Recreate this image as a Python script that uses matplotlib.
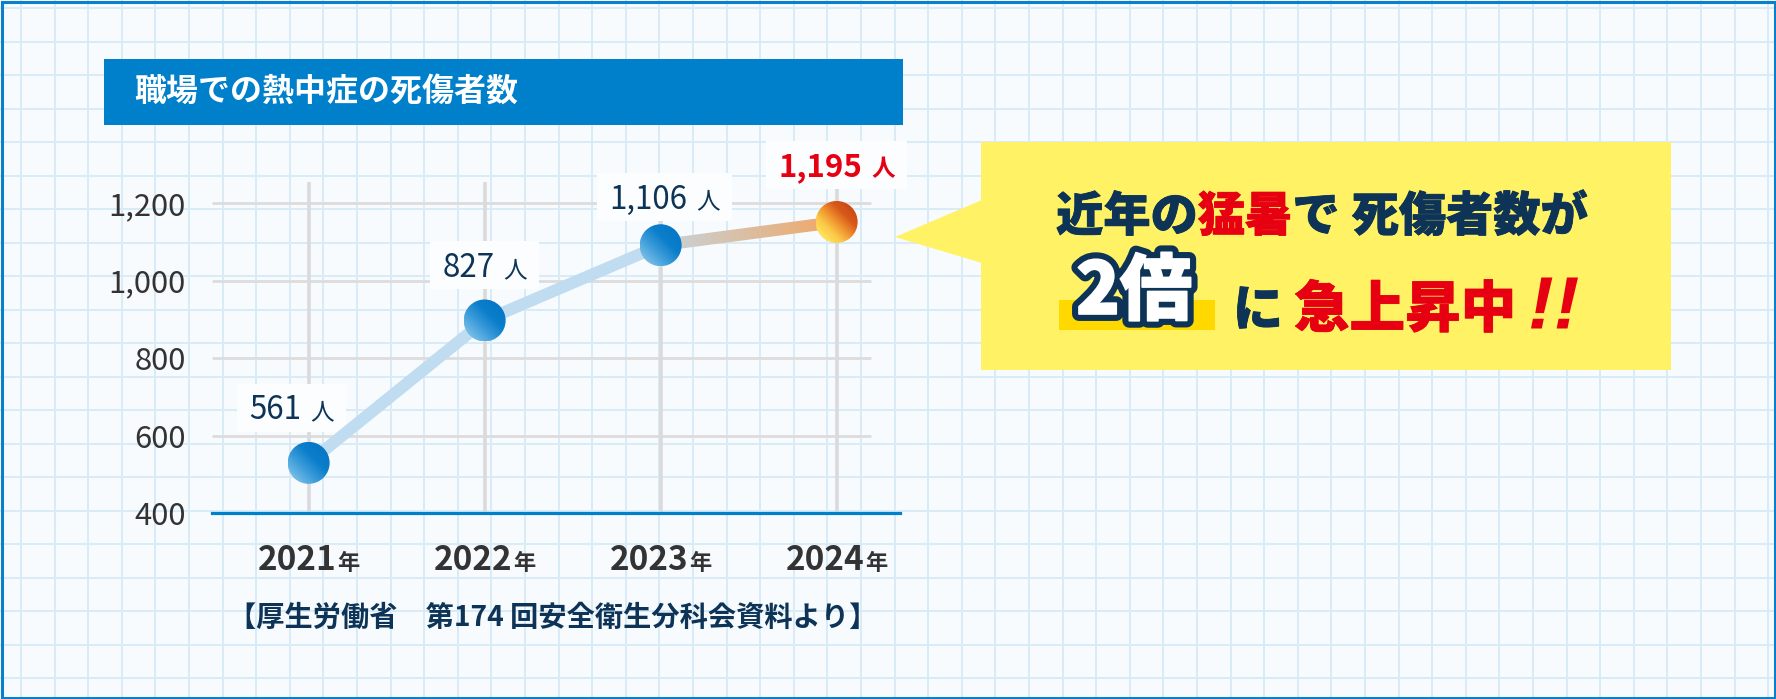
import numpy as np
import matplotlib
matplotlib.use('Agg')
import matplotlib.pyplot as plt
import matplotlib.patheffects as pe
from matplotlib.patches import Rectangle, Polygon, Circle, PathPatch
from matplotlib.transforms import IdentityTransform, Affine2D
from matplotlib.colors import LinearSegmentedColormap
from matplotlib.textpath import TextPath
from matplotlib.font_manager import FontProperties

plt.rcParams['font.family'] = ['Noto Sans CJK JP', 'DejaVu Sans']

# データ
years = ['2021', '2022', '2023', '2024']
deaths = [561, 827, 1106, 1195]          # ラベルの値（人）
drawn_level = [530, 897, 1091, 1151]     # 元の図で点が描かれている高さ
y_ticks = [400, 600, 800, 1000, 1200]
year_unit = '年'
person_unit = '人'

title = '職場での熱中症の死傷者数'
source = '【厚生労働省　第174 回安全衛生分科会資料より】'
msg_line1 = ['近年の', '猛暑', 'で', '死傷者数が']
msg_line1_red = [False, True, False, False]
msg_big = '2倍'
msg_ni = 'に'
msg_red = '急上昇中'
msg_bang = '!!'

# 色
NAVY = '#0d3457'
RED = '#e60012'
BLUE = '#0080cb'
YELLOW = '#fff264'
TEXT_GRAY = '#333333'

W, H = 1776, 699
fig = plt.figure(figsize=(W / 100, H / 100), dpi=100)
renderer = fig.canvas.get_renderer()
ID = IdentityTransform()


def top(y):
    # 上からのピクセル位置 → 表示座標
    return H - y


def runs(axis, cx, base, parts):
    # parts: (文字, 書式, 後ろの余白) を左から並べて cx で中央揃え
    ts = [axis.text(0, base, s, va='baseline', ha='left', transform=ID,
                    clip_on=False, **kw) for s, kw, g in parts]
    ws = [t.get_window_extent(renderer).width for t in ts]
    total = sum(ws) + sum(g for s, kw, g in parts[:-1])
    x = cx - total / 2
    left = x
    for t, w, (s, kw, g) in zip(ts, ws, parts):
        t.set_x(x)
        x += w + g
    return ts, left, total


def heavy(t, color, lw=0.6):
    # 太字を少しだけ太く見せる
    t.set_path_effects([pe.Stroke(linewidth=lw, foreground=color), pe.Normal()])


# 背景（方眼）
bg = fig.add_axes([0, 0, 1, 1])
bg.set_xlim(0, W)
bg.set_ylim(0, H)
bg.axis('off')
bg.add_patch(Rectangle((0, 0), W, H, fc='#f8fbfe', ec='none', zorder=0))
for gx in np.arange(21, W, 33.6):
    bg.axvline(gx, color='#d9ebf6', lw=1.4, zorder=1)
for gy in np.arange(8.2, H, 33.5):
    bg.axhline(top(gy), color='#d9ebf6', lw=1.4, zorder=1)
bg.add_patch(Rectangle((1.5, 1.5), W - 3, H - 3, fill=False, ec='#0a7fcc', lw=2.2, zorder=10))

# タイトル帯
bg.add_patch(Rectangle((104, top(125)), 799, 66, fc=BLUE, ec='none', zorder=2))
bg.text(134, top(92), title, fontsize=23, weight='bold', color='white', va='center', zorder=3)

# 出典
bg.text(553, top(618), source, fontsize=20.3, weight='bold', color=NAVY,
        ha='center', va='center', zorder=3)

# 吹き出し
bg.add_patch(Rectangle((981, top(370)), 690, 228.3, fc=YELLOW, ec='none', zorder=2))
bg.add_patch(Polygon([(895, top(237)), (982, top(200)), (982, top(263))],
                     closed=True, fc=YELLOW, ec='none', zorder=2))
bg.add_patch(Rectangle((1059, top(330)), 156, 30, fc='#ffd800', ec='none', zorder=3))

parts = []
for s, is_red in zip(msg_line1, msg_line1_red):
    gap = 12 if s == 'で' else 0
    parts.append((s, dict(fontsize=34, weight='black', color=RED if is_red else NAVY, zorder=4), gap))
for t, is_red in zip(runs(bg, 1322, top(231), parts)[0], msg_line1_red):
    heavy(t, RED if is_red else NAVY)

big = runs(bg, 1134, top(314), [(msg_big, dict(fontsize=52, weight='black', color='white', zorder=4), 0)])[0][0]
big.set_path_effects([pe.Stroke(linewidth=10, foreground=NAVY), pe.Stroke(linewidth=1.2, foreground='white'),
                      pe.Normal()])
heavy(runs(bg, 1258, top(326), [(msg_ni, dict(fontsize=36, weight='black', color=NAVY, zorder=4), 0)])[0][0], NAVY)
heavy(runs(bg, 1405, top(327), [(msg_red, dict(fontsize=40, weight='black', color=RED, zorder=4), 0)])[0][0], RED)

# 「!!」は縦長の斜体
bang = TextPath((0, 0), msg_bang, size=100,
                prop=FontProperties(family='Liberation Sans', weight='bold', style='italic'))
bb = bang.get_extents()
sy = 51 / bb.height
sx = 47 / bb.width
bang_tf = Affine2D().translate(-bb.x0, -bb.y0).scale(sx, sy).translate(1531, top(328.5))
bg.add_patch(PathPatch(bang, transform=bang_tf, fc=RED, ec='none', zorder=4))

# グラフ
ax = fig.add_axes([212 / W, top(513.3) / H, 688 / W, 331.3 / H])
ax.set_xlim(-0.549, 3.36)
ax.set_ylim(400, 1254)
ax.patch.set_visible(False)
for s in ax.spines.values():
    s.set_visible(False)
ax.set_xticks([])
ax.set_yticks(y_ticks, [f'{v:,}' for v in y_ticks])
ax.tick_params(axis='y', length=0, pad=19, labelsize=22.3, labelcolor=TEXT_GRAY)

xs = np.arange(len(years))
ax.hlines(y_ticks[1:], -0.549, 3.193, colors='#dcdcdc', lw=2, zorder=1)
ax.vlines(xs, 400, 1254, colors='#dadada', lw=2.6, zorder=1)
ax.axhline(400, color=BLUE, lw=2.3, zorder=2, clip_on=False)

# 折れ線（2021〜2023 は水色、2023〜2024 はグラデーション）
ax.plot(xs[:3], drawn_level[:3], color='#bfdcf1', lw=8.6, solid_capstyle='butt', zorder=4)
p0 = ax.transData.transform((xs[2], drawn_level[2]))
p1 = ax.transData.transform((xs[3], drawn_level[3]))
d = (p1 - p0) / np.hypot(*(p1 - p0))
nrm = np.array([-d[1], d[0]]) * 6
seg = Polygon([p0 + nrm, p1 + nrm, p1 - nrm, p0 - nrm], closed=True, transform=ID)
cm_line = LinearSegmentedColormap.from_list('seg', ['#c6d4dc', '#f2a663'])
im = ax.imshow(np.linspace(0, 1, 256).reshape(1, -1), cmap=cm_line, aspect='auto',
               extent=(xs[2], xs[3], drawn_level[2] - 40, drawn_level[3] + 40),
               interpolation='bilinear', zorder=4)
im.set_clip_path(seg)

# マーカー（グラデーションの丸）
cm_blue = LinearSegmentedColormap.from_list('b', ['#74bce5', '#3a9bd9', '#0a7dcb', '#0677c6'])
cm_orange = LinearSegmentedColormap.from_list('o', ['#ffe45e', '#fbc848', '#f0922e', '#d75a1a', '#c94a12'])
uu, vv = np.meshgrid(np.linspace(-1, 1, 120), np.linspace(-1, 1, 120))
shade = np.clip((uu + vv) / 2.84 + 0.5, 0, 1)
r = 21
inv = ax.transData.inverted()
for i in range(len(years)):
    c = ax.transData.transform((xs[i], drawn_level[i]))
    (x0, y0), (x1, y1) = inv.transform([c - r, c + r])
    cm = cm_orange if i == len(years) - 1 else cm_blue
    mk = ax.imshow(shade, cmap=cm, vmin=0, vmax=1, origin='lower', aspect='auto',
                   extent=(x0, x1, y0, y1), interpolation='bilinear', zorder=5)
    mk.set_clip_path(Circle(c, r, transform=ID))

# 数値ラベル
label_dx = [-17, 0, 4, 0]
label_dy = [55, 55, 48, 57]
for i in range(len(years)):
    c = ax.transData.transform((xs[i], drawn_level[i]))
    last = i == len(years) - 1
    col = RED if last else NAVY
    wt = 'bold' if last else 'normal'
    cx, cy = c[0] + label_dx[i], c[1] + label_dy[i]
    ts, left, total = runs(ax, cx, cy - 11.4, [
        (f'{deaths[i]:,}', dict(fontsize=22.5, color=col, weight=wt, zorder=6), 9),
        (person_unit, dict(fontsize=17, color=col, weight=wt, zorder=6), 0)])
    ax.add_patch(Rectangle((left - 12, cy - 24), total + 24, 48, fc='#fcfdfe', ec='none',
                           transform=ID, zorder=3, clip_on=False))

# 年ラベル
for i in range(len(years)):
    c = ax.transData.transform((xs[i], 400))
    runs(ax, c[0], top(570), [
        (years[i], dict(fontsize=24, weight='bold', color=TEXT_GRAY, zorder=6), 1),
        (year_unit, dict(fontsize=16, weight='bold', color=TEXT_GRAY, zorder=6), 0)])

fig.savefig('out.png', dpi=100)
